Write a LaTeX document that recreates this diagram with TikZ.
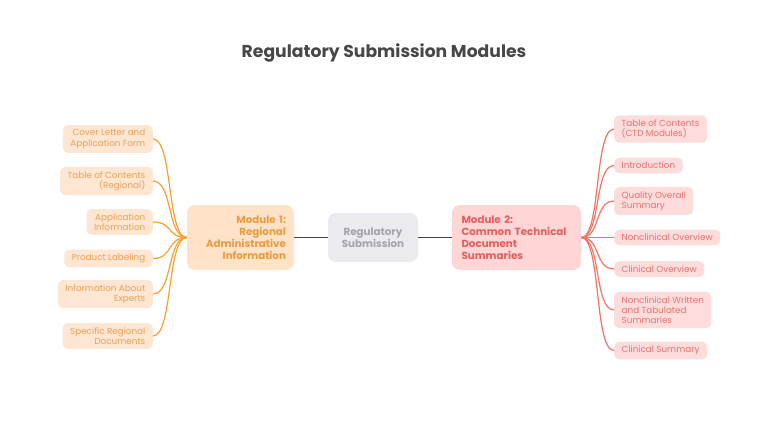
\documentclass[tikz,border=0pt]{standalone}
\usepackage{fontspec}
\setmainfont{Poppins}
\begin{document}
\begin{tikzpicture}[x=1pt,y=-1pt,
  title/.style={font=\fontsize{17.2}{20}\selectfont\bfseries, text=titlec},
  leafL/.style={anchor=east, fill=leafLf, text=leafLt, rounded corners=5pt, align=right,
     font=\fontsize{8.8}{10.3}\selectfont, inner xsep=7.5pt, inner ysep=4.4pt},
  leafR/.style={anchor=west, fill=leafRf, text=leafRt, rounded corners=5pt, align=left,
     font=\fontsize{8.8}{10.3}\selectfont, inner xsep=7.5pt, inner ysep=4.4pt},
  hub/.style={rounded corners=8pt, font=\fontsize{10.3}{12}\selectfont\bfseries, inner sep=0pt},
  edgeL/.style={draw=edgeLc, line width=1.2pt},
  edgeR/.style={draw=edgeRc, line width=1.2pt},
  edgeC/.style={draw=edgeCc, line width=1.3pt}
]
\definecolor{titlec}{HTML}{474747}
\definecolor{centf}{HTML}{EBEBEF}
\definecolor{centt}{HTML}{A3A3AB}
\definecolor{modAf}{HTML}{FFE3C8}
\definecolor{modAt}{HTML}{EC9A3E}
\definecolor{modBf}{HTML}{FFD6D6}
\definecolor{modBt}{HTML}{E65C5C}
\definecolor{leafLf}{HTML}{FEE6D2}
\definecolor{leafLt}{HTML}{EBA055}
\definecolor{leafRf}{HTML}{FDDCDC}
\definecolor{leafRt}{HTML}{E57272}
\definecolor{edgeLc}{HTML}{F7A030}
\definecolor{edgeRc}{HTML}{F27464}
\definecolor{edgeCc}{HTML}{454545}
\useasboundingbox[fill=white] (0,0) rectangle (768,434);

\node[title] (t) at (384,53) {Regulatory Submission Modules};

\node[hub, fill=centf, text=centt, minimum width=90pt, minimum height=49pt, align=center] (c) at (373,237.5) {Regulatory\\Submission};
\node[hub, fill=modAf, text=modAt, minimum width=107pt, minimum height=65pt, align=right, text width=91pt] (m1) at (240.5,237.5) {Module 1:\\Regional\\Administrative\\Information};
\node[hub, fill=modBf, text=modBt, minimum width=129pt, minimum height=65pt, align=left, text width=110pt] (m2) at (516.5,237.5) {Module 2:\\Common Technical\\Document\\Summaries};

\node[leafL] (l1) at (153,139) {Cover Letter and\\Application Form};
\node[leafL] (l2) at (153,181) {Table of Contents\\(Regional)};
\node[leafL] (l3) at (153,222) {Application\\Information};
\node[leafL] (l4) at (153,258.5) {Product Labeling};
\node[leafL] (l5) at (153,294) {Information About\\Experts};
\node[leafL] (l6) at (153,336) {Specific Regional\\Documents};

\node[leafR] (r1) at (614,129) {Table of Contents\\(CTD Modules)};
\node[leafR] (r2) at (614,165.5) {Introduction};
\node[leafR] (r3) at (614,201) {Quality Overall\\Summary};
\node[leafR] (r4) at (614,237.5) {Nonclinical Overview};
\node[leafR] (r5) at (614,269) {Clinical Overview};
\node[leafR] (r6) at (614,310) {Nonclinical Written\\and Tabulated\\Summaries};
\node[leafR] (r7) at (614,350.5) {Clinical Summary};

\draw[edgeC] (m1.east) -- (c.west);
\draw[edgeC] (c.east) -- (m2.west);

\foreach \n in {l1,l2,l3,l4,l5,l6}
  \draw[edgeL] (m1.west) .. controls +(-20,0) and +(20,0) .. (\n.east);
\foreach \n in {r1,r2,r3,r4,r5,r6,r7}
  \draw[edgeR] (m2.east) .. controls +(20,0) and +(-20,0) .. (\n.west);
\end{tikzpicture}
\end{document}
